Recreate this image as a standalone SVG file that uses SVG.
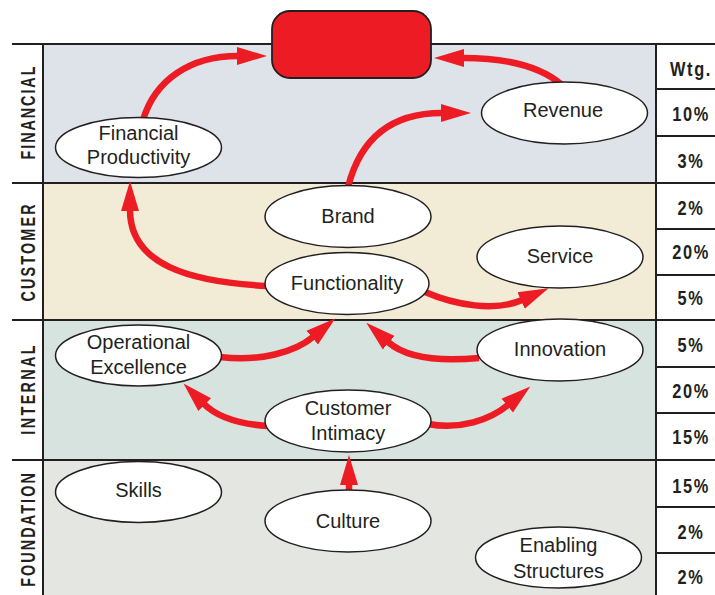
<svg xmlns="http://www.w3.org/2000/svg" width="715" height="595" viewBox="0 0 715 595">
  <style>
    .rule { stroke: #231f20; stroke-width: 2; fill: none; }
    .node { fill: #ffffff; stroke: #231f20; stroke-width: 1.5; }
    .label { font-family: "Liberation Sans", Arial, sans-serif; font-size: 20px; fill: #231f20; text-anchor: middle; }
    .band { font-family: "Liberation Sans", Arial, sans-serif; font-weight: bold; font-size: 20px; fill: #231f20; text-anchor: middle; }
    .wtg { font-family: "Liberation Sans", Arial, sans-serif; font-weight: bold; font-size: 20px; fill: #231f20; text-anchor: middle; letter-spacing: 2px; }
    .link { fill: none; stroke: #ed1c24; stroke-width: 6.5; }
  </style>
  <defs>
    <marker id="head" markerUnits="userSpaceOnUse" markerWidth="32" markerHeight="20" refX="1" refY="10" orient="auto">
      <path d="M0,1 L30,10 L0,19 Z" fill="#ed1c24"/>
    </marker>
  </defs>

  <!-- perspective bands -->
  <g id="bands">
    <rect x="43" y="44" width="613" height="139" fill="#dee3ea"/>
    <rect x="43" y="183" width="613" height="137" fill="#f2ecd6"/>
    <rect x="43" y="320" width="613" height="140" fill="#d6e3de"/>
    <rect x="43" y="460" width="613" height="135" fill="#e4e7e1"/>
    <rect x="656" y="44" width="59" height="551" fill="#ffffff"/>
  </g>

  <!-- grid rules -->
  <g id="grid">
    <line class="rule" x1="12" y1="44" x2="715" y2="44"/>
    <line class="rule" x1="12" y1="183" x2="715" y2="183"/>
    <line class="rule" x1="12" y1="320" x2="715" y2="320"/>
    <line class="rule" x1="12" y1="460" x2="715" y2="460"/>
    <line class="rule" x1="43" y1="44" x2="43" y2="595"/>
    <line class="rule" x1="656" y1="44" x2="656" y2="595"/>
    <line class="rule" x1="656" y1="89" x2="715" y2="89"/>
    <line class="rule" x1="656" y1="136" x2="715" y2="136"/>
    <line class="rule" x1="656" y1="229" x2="715" y2="229"/>
    <line class="rule" x1="656" y1="275" x2="715" y2="275"/>
    <line class="rule" x1="656" y1="367" x2="715" y2="367"/>
    <line class="rule" x1="656" y1="413" x2="715" y2="413"/>
    <line class="rule" x1="656" y1="507" x2="715" y2="507"/>
    <line class="rule" x1="656" y1="553" x2="715" y2="553"/>
  </g>

  <!-- band titles: condensed, tracked capitals -->
  <g id="band-titles">
    <text class="band" transform="translate(35,113) rotate(-90) scale(0.72,1)" textLength="129" lengthAdjust="spacing">FINANCIAL</text>
    <text class="band" transform="translate(35,253) rotate(-90) scale(0.72,1)" textLength="135" lengthAdjust="spacing">CUSTOMER</text>
    <text class="band" transform="translate(35,390) rotate(-90) scale(0.72,1)" textLength="124" lengthAdjust="spacing">INTERNAL</text>
    <text class="band" transform="translate(35,530) rotate(-90) scale(0.72,1)" textLength="158" lengthAdjust="spacing">FOUNDATION</text>
  </g>

  <!-- weighting column -->
  <g id="weights">
    <text class="wtg" transform="translate(691,76) scale(0.82,1)">Wtg.</text>
    <text class="wtg" transform="translate(691,121) scale(0.82,1)">10%</text>
    <text class="wtg" transform="translate(691,168) scale(0.82,1)">3%</text>
    <text class="wtg" transform="translate(691,215) scale(0.82,1)">2%</text>
    <text class="wtg" transform="translate(691,259) scale(0.82,1)">20%</text>
    <text class="wtg" transform="translate(691,305) scale(0.82,1)">5%</text>
    <text class="wtg" transform="translate(691,352) scale(0.82,1)">5%</text>
    <text class="wtg" transform="translate(691,398) scale(0.82,1)">20%</text>
    <text class="wtg" transform="translate(691,444) scale(0.82,1)">15%</text>
    <text class="wtg" transform="translate(691,493) scale(0.82,1)">15%</text>
    <text class="wtg" transform="translate(691,539) scale(0.82,1)">2%</text>
    <text class="wtg" transform="translate(691,584) scale(0.82,1)">2%</text>
  </g>

  <!-- connectors -->
  <g id="connectors">
    <path class="link" marker-end="url(#head)" d="M143,120 C155,80 190,56 238,56"/>
    <path class="link" marker-end="url(#head)" d="M562,85 C540,66 505,58 463,58"/>
    <path class="link" marker-end="url(#head)" d="M348,187 C360,140 390,113 442,113"/>
    <path class="link" marker-end="url(#head)" d="M267,286 C190,282 130,265 130,210"/>
    <path class="link" marker-end="url(#head)" d="M425,292 C455,305 495,312 522,300"/>
    <path class="link" marker-end="url(#head)" d="M220,357 C260,362 295,352 313,337"/>
    <path class="link" marker-end="url(#head)" d="M479,358 C435,362 405,357 388,342"/>
    <path class="link" marker-end="url(#head)" d="M267,426 C240,424 218,418 204,404"/>
    <path class="link" marker-end="url(#head)" d="M428,424 C460,430 490,420 508,405"/>
    <path class="link" marker-end="url(#head)" d="M349,492 L349,484"/>
  </g>

  <!-- goal box -->
  <g id="goal">
    <rect x="272" y="11" width="159" height="67" rx="18" ry="18" fill="#ed1c24" stroke="#231f20" stroke-width="1.8"/>
  </g>

  <!-- objectives -->
  <g id="financial-productivity">
    <ellipse class="node" cx="138.5" cy="147.5" rx="83" ry="30"/>
    <text class="label" x="138.5" y="140">Financial</text>
    <text class="label" x="138.5" y="164">Productivity</text>
  </g>
  <g id="revenue">
    <ellipse class="node" cx="564.5" cy="113" rx="83" ry="31"/>
    <text class="label" x="563" y="117">Revenue</text>
  </g>
  <g id="brand">
    <ellipse class="node" cx="348" cy="216.5" rx="83" ry="31"/>
    <text class="label" x="348" y="223">Brand</text>
  </g>
  <g id="functionality">
    <ellipse class="node" cx="347" cy="283.5" rx="82" ry="31"/>
    <text class="label" x="347" y="290">Functionality</text>
  </g>
  <g id="service">
    <ellipse class="node" cx="560" cy="257" rx="83" ry="31"/>
    <text class="label" x="560" y="263">Service</text>
  </g>
  <g id="operational-excellence">
    <ellipse class="node" cx="138.5" cy="355.5" rx="83" ry="30.5"/>
    <text class="label" x="138.5" y="349">Operational</text>
    <text class="label" x="138.5" y="374">Excellence</text>
  </g>
  <g id="innovation">
    <ellipse class="node" cx="560" cy="350" rx="83" ry="31"/>
    <text class="label" x="560" y="356">Innovation</text>
  </g>
  <g id="customer-intimacy">
    <ellipse class="node" cx="348" cy="421" rx="83" ry="31"/>
    <text class="label" x="348" y="415">Customer</text>
    <text class="label" x="348" y="440">Intimacy</text>
  </g>
  <g id="skills">
    <ellipse class="node" cx="138.5" cy="492" rx="83" ry="30.5"/>
    <text class="label" x="138.5" y="497">Skills</text>
  </g>
  <g id="culture">
    <ellipse class="node" cx="348" cy="521" rx="83" ry="31"/>
    <text class="label" x="348" y="528">Culture</text>
  </g>
  <g id="enabling-structures">
    <ellipse class="node" cx="558.5" cy="557.5" rx="83" ry="30.5"/>
    <text class="label" x="558.5" y="552">Enabling</text>
    <text class="label" x="558.5" y="578">Structures</text>
  </g>
</svg>
